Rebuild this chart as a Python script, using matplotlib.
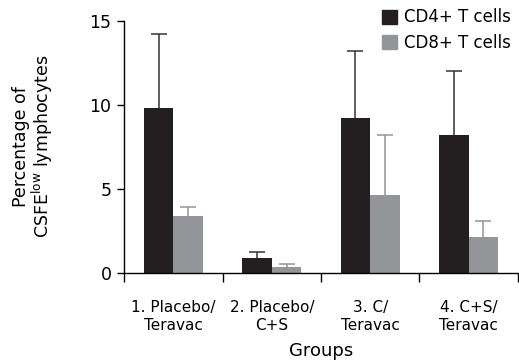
import matplotlib
matplotlib.use('Agg')

import matplotlib.pyplot as plt
from matplotlib.patches import Patch
import numpy as np

groups = ["1. Placebo/\nTeravac", "2. Placebo/\nC+S", "3. C/\nTeravac", "4. C+S/\nTeravac"]
cd4_mean = [9.8, 0.85, 9.2, 8.2]
cd4_err = [4.4, 0.35, 4.0, 3.8]
cd8_mean = [3.35, 0.32, 4.6, 2.1]
cd8_err = [0.55, 0.2, 3.6, 0.95]

black = "#231f20"
gray = "#939598"

plt.rcParams['font.family'] = ['DejaVu Sans']
fig = plt.figure(figsize=(5.19, 3.62), dpi=100)
ax = fig.add_axes([0.239, 0.247, 0.759, 0.696])

x = np.arange(len(groups))
w = 0.3
ax.bar(x - w / 2, cd4_mean, w, color=black, zorder=2)
ax.bar(x + w / 2, cd8_mean, w, color=gray, zorder=2)

# upward-only error bars: hide the lower caps
for xs, m, e, c in [(x - w / 2, cd4_mean, cd4_err, "#333333"), (x + w / 2, cd8_mean, cd8_err, gray)]:
    eb = ax.errorbar(xs, m, yerr=[np.zeros(len(m)), e], fmt='none', ecolor=c,
                     elinewidth=1.1, capsize=5.5, capthick=1.1, zorder=1)
    eb[1][0].set_visible(False)

ax.set_xlim(-0.5, 3.5)
ax.set_ylim(0, 15)
ax.set_yticks([0, 5, 10, 15])
ax.set_xticks(x)
ax.set_xticklabels(groups, fontsize=11)
ax.set_xticks(np.arange(-0.5, 4, 1), minor=True)
ax.tick_params(axis='x', which='major', length=0, pad=20)
ax.tick_params(axis='x', which='minor', length=6.5, width=1, direction='out')
ax.tick_params(axis='y', labelsize=12.5, length=5, width=1, pad=4)

for s in ['top', 'right']:
    ax.spines[s].set_visible(False)
for s in ['left', 'bottom']:
    ax.spines[s].set_linewidth(1)
ax.spines['left'].set_bounds(0, 15)

ax.set_xlabel("Groups", fontsize=13, labelpad=7)
ax.set_ylabel("Percentage of\nCSFE$^{\\mathregular{low}}$ lymphocytes", fontsize=12.5,
              labelpad=25, linespacing=1.0)

handles = [Patch(color=black, label="CD4+ T cells"), Patch(color=gray, label="CD8+ T cells")]
fig.legend(handles=handles, loc='upper right', bbox_to_anchor=(1.0, 1.0), frameon=False,
           fontsize=12, handlelength=0.9, handleheight=0.9, handletextpad=0.4,
           labelspacing=0.45, borderaxespad=0.1)

fig.savefig("out.png", dpi=100)
